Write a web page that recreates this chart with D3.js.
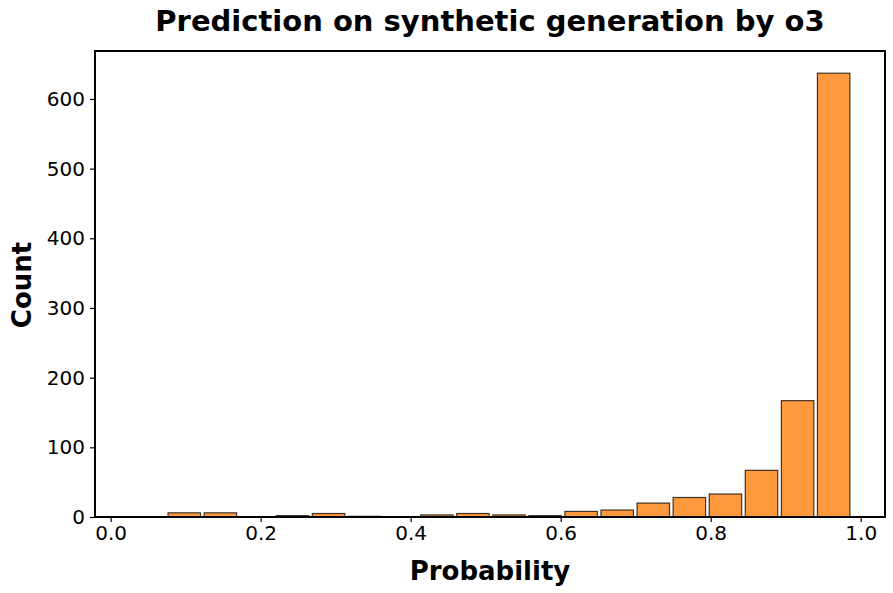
<!DOCTYPE html>
<html><head><meta charset="utf-8">
<script src="https://cdn.jsdelivr.net/npm/d3@7"></script>
<style>body{margin:0;background:#fff;} text{font-family:"DejaVu Sans",sans-serif;}</style>
</head><body><svg id="c" width="893" height="593"></svg>
<script>
const titleText = "Prediction on synthetic generation by o3";
const xLabel = "Probability";
const yLabel = "Count";
const binStart = 0.026;
const binWidth = 0.0481;
const counts = [0, 6, 6, 0, 2, 5, 1, 0, 3, 5, 3, 2, 8, 10, 20, 28, 33, 67, 167, 637];
const xTicks = [0.0, 0.2, 0.4, 0.6, 0.8, 1.0];
const yTicks = [0, 100, 200, 300, 400, 500, 600];
const xDomain = [-0.0209, 1.0324];

const svg = d3.select("#c");
const m = {l: 95, r: 885, t: 51, b: 517};
const binEdges = counts.map((c, i) => binStart + i * binWidth);
const x = d3.scaleLinear().domain(xDomain).range([m.l, m.r]);
const y = d3.scaleLinear().domain([0, d3.max(counts) * 1.05]).range([m.b, m.t]);

const bars = counts.map((c, i) => ({x0: binEdges[i], c}));
svg.append("g").selectAll("rect").data(bars).join("rect")
  .attr("x", d => x(d.x0 + binWidth * 0.05))
  .attr("width", d => x(d.x0 + binWidth * 0.95) - x(d.x0 + binWidth * 0.05))
  .attr("y", d => y(d.c))
  .attr("height", d => y(0) - y(d.c))
  .attr("fill", "#ff7f0e").attr("fill-opacity", 0.8)
  .attr("stroke", "#000").attr("stroke-opacity", 0.75).attr("stroke-width", 1.2);

const xa = svg.append("g").attr("transform", `translate(0,${m.b})`)
  .call(d3.axisBottom(x).tickValues(xTicks).tickFormat(d3.format(".1f")).tickSize(5).tickPadding(4));
const ya = svg.append("g").attr("transform", `translate(${m.l},0)`)
  .call(d3.axisLeft(y).tickValues(yTicks).tickFormat(d3.format("d")).tickSize(5).tickPadding(5));
[xa, ya].forEach(a => {
  a.select(".domain").remove();
  a.selectAll("text").attr("font-size", 20).attr("fill", "#000").style("font-family", "DejaVu Sans");
  a.selectAll("line").attr("stroke", "#000").attr("stroke-width", 1.2);
});
svg.append("rect").attr("x", m.l).attr("y", m.t).attr("width", m.r - m.l).attr("height", m.b - m.t)
  .attr("fill", "none").attr("stroke", "#000").attr("stroke-width", 2);

svg.append("text").attr("x", 490).attr("y", 31).attr("text-anchor", "middle")
  .attr("font-size", 29).attr("font-weight", "bold").text(titleText);
svg.append("text").attr("x", 490).attr("y", 580).attr("text-anchor", "middle")
  .attr("font-size", 26).attr("font-weight", "bold").text(xLabel);
svg.append("text").attr("transform", "translate(31,285) rotate(-90)").attr("text-anchor", "middle")
  .attr("font-size", 26).attr("font-weight", "bold").text(yLabel);
</script></body></html>
